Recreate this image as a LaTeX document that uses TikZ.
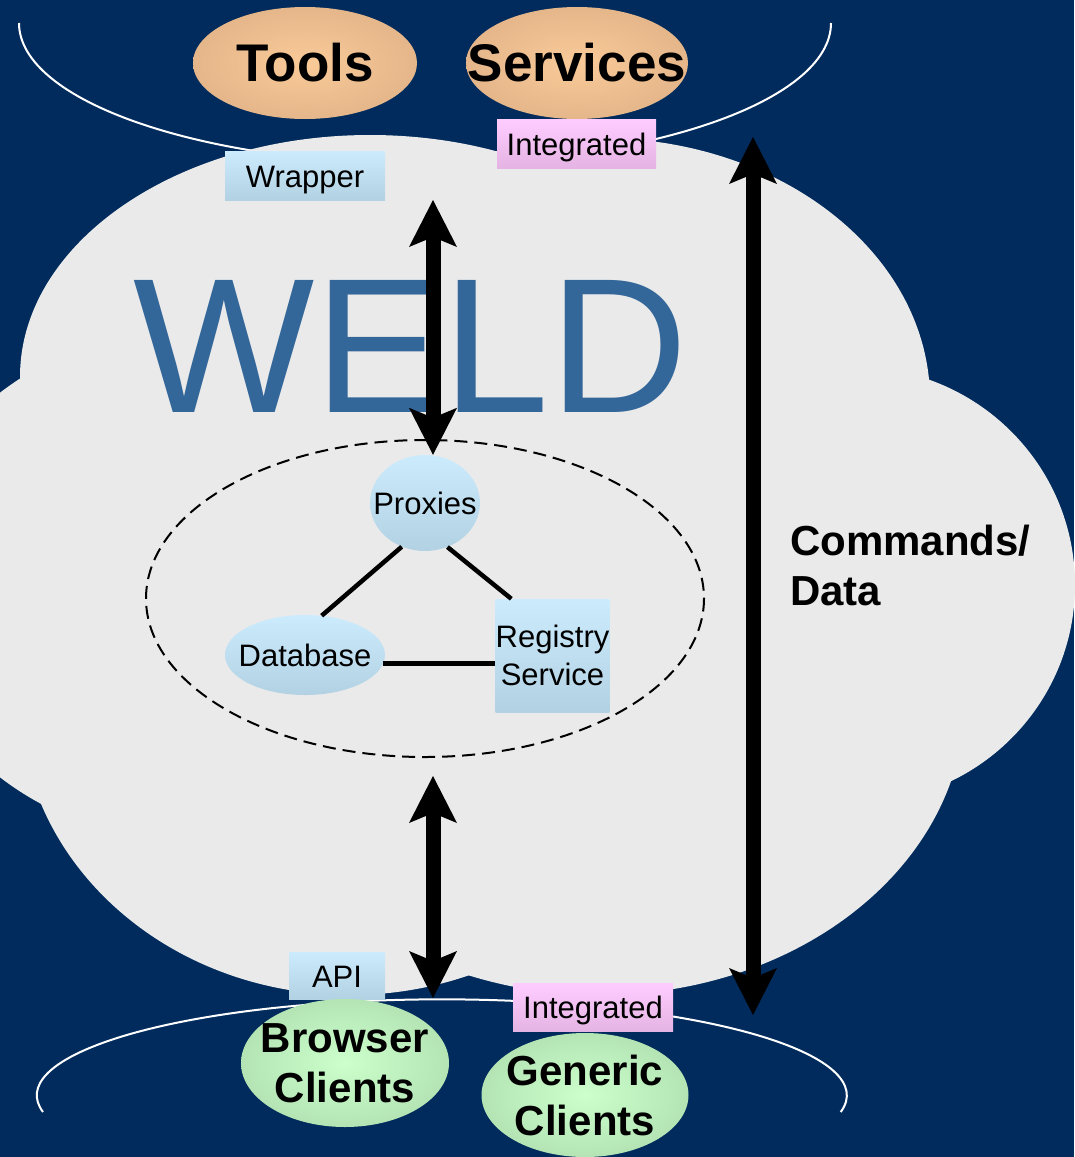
\documentclass[tikz,border=0pt]{standalone}
\usepackage{fontspec}
\setmainfont{Liberation Sans}
\usetikzlibrary{shapes.geometric,arrows.meta}

\definecolor{navy}{RGB}{0,43,92}
\definecolor{cloudgrey}{RGB}{234,234,234}
\definecolor{weldblue}{RGB}{51,102,153}
\definecolor{peachin}{RGB}{250,202,152}
\definecolor{peachout}{RGB}{228,182,138}
\definecolor{bluetop}{RGB}{204,236,254}
\definecolor{bluebot}{RGB}{178,210,228}
\definecolor{pinktop}{RGB}{255,204,255}
\definecolor{pinkbot}{RGB}{228,180,228}
\definecolor{greenin}{RGB}{204,255,204}
\definecolor{greenout}{RGB}{180,228,180}

\tikzset{
  smalltext/.style={font=\fontsize{31}{38}\selectfont},
  boldtext/.style={font=\bfseries\fontsize{42}{50}\selectfont, align=center},
  tag/.style={rectangle, inner sep=0pt, smalltext},
  oneline/.style={text height=23pt, text depth=0pt},
  bluetag/.style={tag, top color=bluetop, bottom color=bluebot},
  pinktag/.style={tag, top color=pinktop, bottom color=pinkbot},
  blob/.style={ellipse, inner sep=0pt},
  peachblob/.style={blob, inner color=peachin, outer color=peachout},
  blueblob/.style={blob, top color=bluetop, bottom color=bluebot},
  greenblob/.style={blob, inner color=greenin, outer color=greenout},
  rim/.style={white, line width=2pt},
  link/.style={black, line width=4.5pt},
  fatarrow/.style={line width=15pt,
    {Stealth[length=47pt,width=48pt,inset=10pt,line width=0pt]}-{Stealth[length=47pt,width=48pt,inset=10pt,line width=0pt]}}
}

\begin{document}
\begin{tikzpicture}[x=1pt,y=-1pt]
  %%%%% backdrop %%%%%
  \useasboundingbox (0,0) rectangle (1074,1157);
  \fill[navy] (0,0) rectangle (1074,1157);
  \draw[rim] (19,23) arc[start angle=180, end angle=0, x radius=406, y radius=141];

  %%%%% cloud %%%%%
  \foreach \cx/\cy/\rx/\ry in {370/377/350/242, 600/400/330/262, 855/585/220/218,
                               600/700/365/295, 350/700/330/295, 200/585/300/258}
    \fill[cloudgrey] (\cx,\cy) ellipse [x radius=\rx, y radius=\ry];
  \fill[cloudgrey] (200,300) rectangle (850,850);
  \draw[rim] (43,1112) arc[start angle=170, end angle=370, x radius=405, y radius=96];

  \node[anchor=base west, inner sep=0pt, text=weldblue, font=\fontsize{192}{200}\selectfont] (weld) at (133,412) {WELD};
  \draw[black, line width=2pt, dash pattern=on 13pt off 7pt] (425,598.5) ellipse [x radius=279, y radius=158.5];

  %%%%% top %%%%%
  \node[peachblob, minimum width=224pt, minimum height=112pt,
        label={[font=\bfseries\fontsize{53}{60}\selectfont]center:Tools}] (tools) at (305,63) {};
  \node[peachblob, minimum width=222pt, minimum height=112pt,
        label={[font=\bfseries\fontsize{53}{60}\selectfont]center:Services}] (services) at (577,63) {};
  \node[bluetag, oneline, minimum width=160pt, minimum height=49pt] (wrapper) at (305,175.5) {Wrapper};
  \node[pinktag, oneline, minimum width=159pt, minimum height=49pt] (intop) at (576.5,143.5) {Integrated};

  %%%%% core %%%%%
  \node[blueblob, minimum width=110pt, minimum height=96pt, label={[smalltext]center:Proxies}] (prox) at (425,503) {};
  \node[blueblob, minimum width=160pt, minimum height=80pt, label={[smalltext]center:Database}] (db) at (305,655) {};
  \node[bluetag, minimum width=111pt, minimum height=113pt, align=center] (reg) at (552.5,655.5) {Registry\\Service};
  \draw[link] (prox.242) -- (db.67);
  \draw[link] (prox.297) -- (reg.126);
  \draw[link] (db.-6) -- (db.-6 -| reg.west);

  \node[anchor=base west, inner sep=0pt, font=\bfseries\fontsize{42}{50}\selectfont, align=left] (cmd) at (790,605) {Commands/\\Data};

  %%%%% bottom %%%%%
  \node[bluetag, oneline, minimum width=96pt, minimum height=47pt] (api) at (337,975.5) {API};
  \node[pinktag, oneline, minimum width=160pt, minimum height=48pt] (inbot) at (593,1007) {Integrated};
  \node[greenblob, minimum width=208pt, minimum height=128pt, label={[boldtext]center:Browser\\Clients}] (browser) at (345,1063) {};
  \node[greenblob, minimum width=207pt, minimum height=124pt, label={[boldtext]center:Generic\\Clients}] (generic) at (585,1095) {};

  %%%%% arrows %%%%%
  \coordinate (wtop) at (433,200);
  \coordinate (atop) at (433,776);
  \coordinate (abot) at (433,998);
  \coordinate (ctop) at (753,137);
  \coordinate (cbot) at (753,1015);
  \draw[fatarrow] (wtop) -- (wtop |- prox.north);
  \draw[fatarrow] (atop) -- (abot);
  \draw[fatarrow] (ctop) -- (cbot);
\end{tikzpicture}
\end{document}
